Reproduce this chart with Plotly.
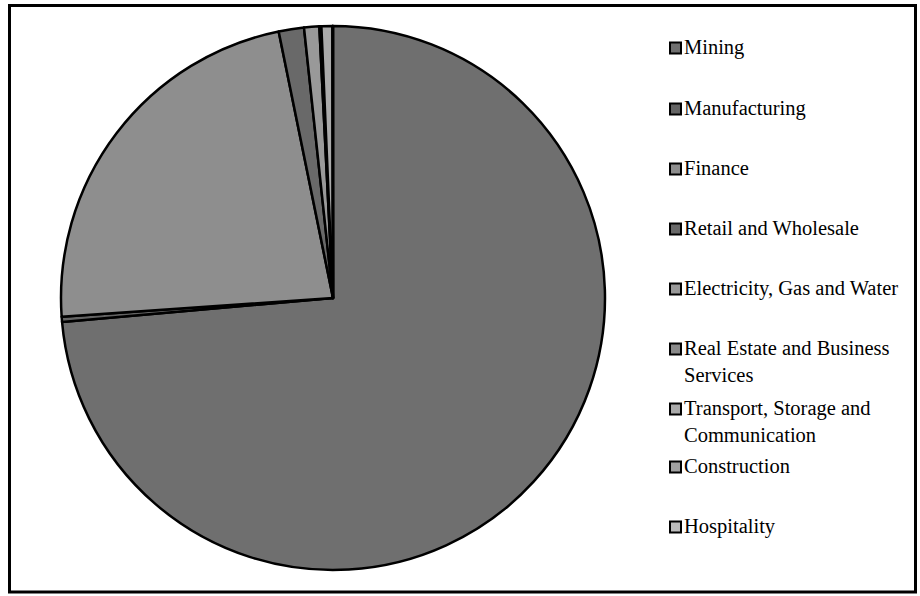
import plotly.graph_objects as go

# Share of each industry (percent)
industries = [
    "Mining",
    "Manufacturing",
    "Finance",
    "Retail and Wholesale",
    "Electricity, Gas and Water",
    "Real Estate and Business Services",
    "Transport, Storage and Communication",
    "Construction",
    "Hospitality",
]
legend_labels = [
    "Mining",
    "Manufacturing",
    "Finance",
    "Retail and Wholesale",
    "Electricity, Gas and Water",
    "Real Estate and Business<br>Services",
    "Transport, Storage and<br>Communication",
    "Construction",
    "Hospitality",
]
shares = [73.6, 0.3, 22.9, 1.5, 0.9, 0.12, 0.65, 0.02, 0.01]
colors = ["#6f6f6f", "#646464", "#8e8e8e", "#696969", "#999999",
          "#8a8a8a", "#aaaaaa", "#a0a0a0", "#bdbdbd"]

W, H = 920, 596
cx, cy, r = 333, 298, 272
SERIF = "Liberation Serif, Times New Roman, serif"


def px(x):
    return x / W


def py(y):
    return 1 - y / H


fig = go.Figure(go.Pie(
    labels=industries,
    values=shares,
    marker=dict(colors=colors, line=dict(color="black", width=2.5)),
    sort=False,
    direction="clockwise",
    rotation=0,
    textinfo="none",
    hoverinfo="label+percent",
    showlegend=False,
    domain=dict(x=[px(cx - r), px(cx + r)], y=[py(cy + r), py(cy - r)]),
))

shapes = [dict(type="rect", xref="paper", yref="paper",
               x0=px(9.5), x1=px(915.5), y0=py(592), y1=py(5.5),
               line=dict(color="black", width=3), fillcolor="rgba(0,0,0,0)")]
annotations = []

legend_y = [48, 109, 169, 229, 289, 349, 409, 467, 527]
box = 11
for lab, col, yc in zip(legend_labels, colors, legend_y):
    shapes.append(dict(type="rect", xref="paper", yref="paper",
                       x0=px(670), x1=px(670 + box),
                       y0=py(yc + box / 2), y1=py(yc - box / 2),
                       fillcolor=col, line=dict(color="black", width=2)))
    annotations.append(dict(
        x=px(682), y=py(yc - 14), xref="paper", yref="paper",
        xanchor="left", yanchor="top", align="left", showarrow=False,
        text=lab,
        font=dict(family=SERIF, size=20.5, color="black"),
    ))

fig.update_layout(
    width=W, height=H,
    margin=dict(l=0, r=0, t=0, b=0),
    paper_bgcolor="white",
    plot_bgcolor="white",
    font=dict(family=SERIF),
    shapes=shapes,
    annotations=annotations,
)

fig.write_html("out.html")
